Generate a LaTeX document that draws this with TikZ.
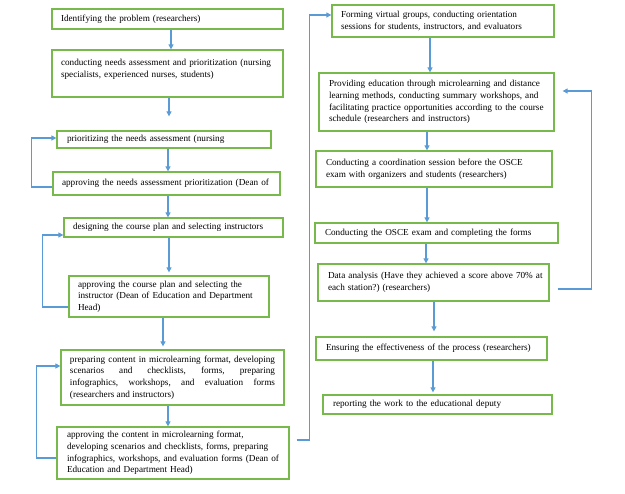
\documentclass[tikz,border=0pt]{standalone}
\usepackage{fontspec}
\setmainfont{Liberation Serif}
\usetikzlibrary{arrows.meta}
\definecolor{boxgreen}{RGB}{120,185,75}
\definecolor{arrblue}{RGB}{91,155,213}
\tikzset{
  box/.style={draw=boxgreen, line width=1.3pt, rectangle, inner ysep=0pt,
    align=left, font=\fontsize{9.2}{11.6}\selectfont\frenchspacing},
  arr/.style={draw=arrblue, line width=1.1pt, -{Triangle[length=5pt,width=5pt]}}
}
\begin{document}
\begin{tikzpicture}[x=1pt,y=-1pt]
\useasboundingbox[fill=white] (0,0) rectangle (625,494);
% left column
\node[box, minimum width=231, minimum height=20, text width=213, inner xsep=9] (b1) at (167.5,19) {\mbox{Identifying the problem (researchers)}};
\node[box, minimum width=231, minimum height=47, text width=213, inner xsep=9, text depth=22pt] (b2) at (167.5,73.5) {\mbox{conducting needs assessment and prioritization (nursing}\\\mbox{specialists, experienced nurses, students)}};
\node[box, minimum width=214, minimum height=17, text width=194, inner xsep=10] (b3) at (164,139.5) {\mbox{prioritizing the needs assessment (nursing}};
\node[box, minimum width=227, minimum height=23, text width=209, inner xsep=9] (b4) at (166.5,183.5) {\mbox{approving the needs assessment prioritization (Dean of}};
\node[box, minimum width=219, minimum height=19, text width=201, inner xsep=9] (b5) at (173.5,227.5) {\mbox{designing the course plan and selecting instructors}};
\node[box, minimum width=200, minimum height=41, text width=182, inner xsep=9] (b6) at (169,296.5) {\mbox{approving the course plan and selecting the}\\\mbox{instructor (Dean of Education and Department}\\Head)};
\node[box, minimum width=223, minimum height=55, text width=205, inner xsep=9, align=justify] (b7) at (172.5,377.5) {preparing content in microlearning format, developing\linebreak scenarios and checklists, forms, preparing\linebreak infographics, workshops, and evaluation forms\linebreak (researchers and instructors)};
\node[box, minimum width=232, minimum height=52, text width=212, inner xsep=10] (b8) at (173,453) {\mbox{approving the content in microlearning format,}\\\mbox{developing scenarios and checklists, forms, preparing}\\\mbox{infographics, workshops, and evaluation forms (Dean of}\\\mbox{Education and Department Head)}};
% right column
\node[box, minimum width=222, minimum height=32, text width=204, inner xsep=9] (r1) at (443,21) {\mbox{Forming virtual groups, conducting orientation}\\\mbox{sessions for students, instructors, and evaluators}};
\node[box, minimum width=235, minimum height=58, text width=215, inner xsep=10] (r2) at (436.5,102) {\mbox{Providing education through microlearning and distance}\\\mbox{learning methods, conducting summary workshops, and}\\\mbox{facilitating practice opportunities according to the course}\\\mbox{schedule (researchers and instructors)}};
\node[box, minimum width=236, minimum height=36, text width=216, inner xsep=10] (r3) at (434,169) {\mbox{Conducting a coordination session before the OSCE}\\\mbox{exam with organizers and students (researchers)}};
\node[box, minimum width=243, minimum height=20, text width=223, inner xsep=10] (r4) at (436.5,233) {\mbox{Conducting the OSCE exam and completing the forms}};
\node[box, minimum width=231, minimum height=37, text width=211, inner xsep=10] (r5) at (433.5,282.5) {\mbox{Data analysis (Have they achieved a score above 70\% at}\\\mbox{each station?) (researchers)}};
\node[box, minimum width=231, minimum height=23, text width=211, inner xsep=10] (r6) at (431.5,348.5) {\mbox{Ensuring the effectiveness of the process (researchers)}};
\node[box, minimum width=229, minimum height=19, text width=209, inner xsep=10] (r7) at (437.5,404.5) {\mbox{reporting the work to the educational deputy}};
% vertical arrows left
\draw[arr] ([xshift=3.5pt]b1.south) -- ([xshift=3.5pt]b1.south |- b2.north);
\draw[arr] ([xshift=1.5pt]b2.south) -- ([xshift=1.5pt,yshift=14pt]b2.south |- b3.north);
\draw[arr] ([xshift=4pt]b3.south) -- ([xshift=4pt]b3.south |- b4.north);
\draw[arr] ([xshift=1.5pt]b4.south) -- ([xshift=1.5pt]b4.south |- b5.north);
\draw[arr] ([xshift=-4.5pt]b5.south) -- ([xshift=-4.5pt,yshift=3pt]b5.south |- b6.north);
\draw[arr] ([xshift=-6pt]b6.south) -- ([xshift=-6pt,yshift=3pt]b6.south |- b7.north);
\draw[arr] ([xshift=-4.5pt]b7.south) -- ([xshift=-4.5pt]b7.south |- b8.north);
% vertical arrows right
\draw[arr] ([xshift=-13pt]r1.south) -- ([xshift=-13pt]r1.south |- r2.north);
\draw[arr] ([xshift=-9.5pt]r2.south) -- ([xshift=-9.5pt]r2.south |- r3.north);
\draw[arr] ([xshift=-7pt]r3.south) -- ([xshift=-7pt]r3.south |- r4.north);
\draw[arr] ([xshift=-10.5pt]r4.south) -- ([xshift=-10.5pt]r4.south |- r5.north);
\draw[arr] ([xshift=0.5pt]r5.south) -- ([xshift=0.5pt,yshift=5pt]r5.south |- r6.north);
\draw[arr] ([xshift=1.5pt]r6.south) -- ([xshift=1.5pt,yshift=2pt]r6.south |- r7.north);
% feedback loops
\draw[arr] ([yshift=-3.5pt]b4.west) -- ++(-21,0) |- ([yshift=1.5pt]b3.west);
\draw[arr] ([yshift=-10.5pt]b6.west) -- ++(-26,0) |- ([yshift=-7.5pt]b5.west);
\draw[arr] ([yshift=-5pt]b8.west) -- ++(-20,0) |- ([yshift=11.5pt]b7.west);
\draw[arr] ([xshift=7pt,yshift=13pt]b8.east) -- ++(13,0) |- ([yshift=6pt]r1.west);
\draw[arr] ([xshift=8pt,yshift=-6.5pt]r5.east) -- ++(34,0) |- ([xshift=8pt,yshift=11pt]r2.east);
\end{tikzpicture}
\end{document}
